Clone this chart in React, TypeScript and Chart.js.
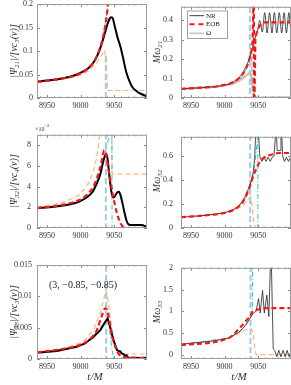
import React, { useEffect, useRef } from "react";
import { Chart, registerables } from "chart.js";
Chart.register(...registerables);

const SERIF = "'Liberation Serif', 'DejaVu Serif', serif";

// ---------- shared axis data ----------
const T_MIN = 8935;
const T_MAX = 9099;
const X_TICKS = [8950, 9000, 9050];

// ---------- |Psi21| panel ----------
const p21NrT = [8935, 8950, 8965.5, 8981, 8994.3, 9004.6, 9011.9, 9019, 9024.2, 9028.3, 9032.5, 9036.6, 9040.7, 9043.8, 9045.9, 9047.9, 9051, 9055.2, 9059.2, 9063.4, 9067.5, 9071.6, 9076.8, 9084, 9091.2, 9102.5];
const p21Nr = [0.035, 0.037, 0.04, 0.044, 0.05, 0.057, 0.064, 0.075, 0.088, 0.102, 0.12, 0.14, 0.16, 0.17, 0.172, 0.17, 0.152, 0.128, 0.11, 0.085, 0.058, 0.04, 0.024, 0.014, 0.008, 0.002];
const p21EobT = [8935, 8965.5, 8996.4, 9011.9, 9022.2, 9029.4, 9033.5, 9036.6, 9038.6, 9040.7, 9042.8];
const p21Eob = [0.034, 0.04, 0.05, 0.064, 0.083, 0.108, 0.13, 0.152, 0.172, 0.2, 0.26];
const p21CyT = [8935, 8965.5, 8996.4, 9011.9, 9022.2, 9029.4, 9033.5, 9036.6, 9039.7, 9042.3];
const p21Cy = [0.034, 0.04, 0.05, 0.065, 0.085, 0.11, 0.133, 0.158, 0.19, 0.25];
const p21OrT = [8935, 8965.5, 8996.4, 9011.9, 9022.2, 9029.4, 9033.5, 9035.5, 9037.6, 9039.1, 9040.2, 9102.5];
const p21Or = [0.033, 0.038, 0.047, 0.058, 0.072, 0.086, 0.096, 0.102, 0.09, 0.05, 0.016, 0.016];
const p21BlT = [9037.6, 9037.6];
const p21Bl = [0, 0.09];
const p21YTicks = [0, 0.05, 0.1, 0.15, 0.2];

// ---------- M omega21 panel ----------
const w21NrT = [8935, 8960.4, 8986.1, 9001.6, 9009.8, 9017, 9023.2, 9028.3, 9032.5, 9035.5, 9038.6, 9041.7, 9044.8, 9047.4, 9050, 9052.1, 9054.1, 9056.2, 9059.8, 9063.4, 9067, 9070.6, 9074.2, 9077.8, 9081.5, 9085.1, 9088.7, 9092.2, 9095.8, 9099.4, 9102.5];
const w21Nr = [0.047, 0.052, 0.059, 0.067, 0.077, 0.092, 0.112, 0.138, 0.165, 0.19, 0.222, 0.26, 0.3, 0.33, 0.36, 0.4, 0.38, 0.34, 0.44, 0.335, 0.44, 0.335, 0.44, 0.335, 0.44, 0.335, 0.44, 0.335, 0.44, 0.335, 0.4];
const w21EobT = [8935, 8986.1, 9006.7, 9017, 9024.2, 9029.4, 9033.5, 9036.6, 9039.7, 9041.7, 9043.6, 9043.8, 9045.9, 9049, 9053.1, 9058.2, 9102.5];
const w21Eob = [0.047, 0.058, 0.072, 0.09, 0.11, 0.135, 0.165, 0.195, 0.235, 0.29, 0.6, -0.2, 0.31, 0.35, 0.375, 0.39, 0.39];
const w21OmT = [8935, 8986.1, 9011.9, 9022.2, 9028.3, 9032.5, 9035.5, 9037.6, 9039.7, 9041.7, 9043.8, 9045.9, 9102.5];
const w21Om = [0.047, 0.057, 0.073, 0.09, 0.105, 0.117, 0.126, 0.128, 0.11, 0.06, 0.02, 0.002, 0.002];
const w21OrT = [8935, 8986.1, 9011.9, 9022.2, 9028.3, 9032.5, 9035.5, 9038.6, 9040.7, 9042.8, 9044.8, 9102.5];
const w21Or = [0.046, 0.056, 0.072, 0.088, 0.103, 0.115, 0.122, 0.124, 0.09, 0.03, 0.004, 0.004];
const w21CyT = [8935, 8986.1, 9011.9, 9022.2, 9028.3, 9032.5, 9035.5, 9038.6, 9040.2, 9041.2];
const w21Cy = [0.047, 0.058, 0.075, 0.095, 0.12, 0.15, 0.18, 0.22, 0.25, 0];
const w21BlT = [9037.6, 9037.6];
const w21Bl = [-1, 1];
const w21YTicks = [0, 0.1, 0.2, 0.3, 0.4];

// ---------- |Psi32| panel (x 10^-3) ----------
const p32NrT = [8935, 8960.4, 8981, 8996.4, 9006.7, 9013.9, 9019, 9024.2, 9029.4, 9034, 9036.6, 9038.6, 9040.2, 9041.7, 9043.8, 9045.9, 9049, 9051, 9054.1, 9057.2, 9059.8, 9062.4, 9065.4, 9068.5, 9071.6, 9075.8, 9084, 9091.2, 9097.3, 9102.5];
const p32Nr = [1.9, 2.05, 2.25, 2.5, 2.85, 3.2, 3.6, 4.3, 5.2, 6.5, 7.0, 7.1, 6.7, 5.8, 4.5, 3.5, 2.95, 3.05, 3.4, 3.5, 3.1, 2.4, 1.5, 0.7, 0.35, 0.28, 0.3, 0.28, 0.15, 0.05];
const p32EobT = [8935, 8960.4, 8981, 8996.4, 9006.7, 9013.9, 9019, 9024.2, 9029.4, 9032.5, 9035, 9037.6, 9040.2, 9043.8, 9049, 9054.1, 9059.2, 9063.4, 9067.5];
const p32Eob = [1.95, 2.1, 2.35, 2.65, 3.05, 3.5, 4.0, 4.8, 5.9, 6.8, 7.5, 7.2, 6.2, 4.8, 2.9, 1.45, 0.5, 0.12, 0];
const p32OrT = [8935, 8970.7, 8996.4, 9006.7, 9013.9, 9019, 9023.2, 9026.3, 9028.9, 9046.4, 9046.9, 9102.5];
const p32Or = [2.0, 2.4, 3.1, 3.8, 4.6, 5.5, 6.6, 7.8, 9.5, 9.5, 5.2, 5.2];
const p32CyT = [8935, 8981, 9006.7, 9019, 9029.4, 9034.5, 9038.6, 9041.7, 9044.3, 9046.7, 9046.9];
const p32Cy = [1.95, 2.3, 2.95, 3.8, 5.5, 6.8, 7.8, 8.6, 9.5, 9.5, -0.5];
const p32BlT = [9037.6, 9037.6];
const p32Bl = [-1, 10];
const p32YTicks = [0, 2, 4, 6, 8];

// ---------- M omega32 panel ----------
const w32NrT = [8935, 8960.4, 8986.1, 9001.6, 9011.9, 9020.1, 9026.3, 9030.4, 9033.5, 9036.6, 9039.7, 9042.8, 9044.8, 9046.4, 9050.5, 9052.6, 9055.7, 9058.8, 9061.8, 9064.9, 9068, 9071.1, 9073.7, 9076.3, 9077.3, 9078.4, 9083, 9084, 9085.1, 9086.6, 9089.1, 9092.2, 9095.3, 9098.4, 9101.5, 9102.5];
const w32Nr = [0.09, 0.1, 0.115, 0.13, 0.15, 0.18, 0.22, 0.26, 0.3, 0.34, 0.39, 0.47, 0.58, 0.8, 0.8, 0.59, 0.555, 0.59, 0.555, 0.59, 0.555, 0.59, 0.6, 0.8, 0.8, 0.645, 0.645, 0.8, 0.8, 0.6, 0.555, 0.59, 0.555, 0.59, 0.555, 0.57];
const w32EobT = [8935, 8960.4, 8986.1, 9001.6, 9011.9, 9020.1, 9026.3, 9030.4, 9033.5, 9036.6, 9040.7, 9043.8, 9047.9, 9052.1, 9057.2, 9063.4, 9071.6, 9082, 9102.5];
const w32Eob = [0.09, 0.1, 0.113, 0.127, 0.148, 0.175, 0.21, 0.25, 0.29, 0.33, 0.4, 0.45, 0.5, 0.55, 0.58, 0.6, 0.615, 0.625, 0.625];
const w32OrT = [8935, 8986.1, 9011.9, 9022.2, 9029.4, 9033.5, 9036.6, 9039.1, 9041.2, 9043.3, 9045.4, 9102.5];
const w32Or = [0.09, 0.11, 0.14, 0.17, 0.2, 0.225, 0.245, 0.26, 0.18, 0.06, 0.005, 0.005];
const w32CyT = [8935, 8986.1, 9011.9, 9022.2, 9029.4, 9033.5, 9037.6, 9041.7, 9044.8, 9047.4, 9049.5, 9049.7];
const w32Cy = [0.09, 0.113, 0.15, 0.185, 0.225, 0.27, 0.33, 0.42, 0.52, 0.65, 0.8, -0.05];
const w32BlT = [9038.1, 9038.1];
const w32Bl = [-1, 1];
const w32YTicks = [0, 0.2, 0.4, 0.6];

// ---------- |Psi33| panel ----------
const p33NrT = [8935, 8964.5, 8994.3, 9006.7, 9019, 9029.4, 9036.6, 9040.2, 9043.8, 9049, 9054.1, 9056.2, 9059.2, 9061.3, 9063.9, 9066.5, 9068.5, 9071.6, 9078.9, 9089.1, 9102.5];
const p33Nr = [0.00101, 0.00128, 0.00195, 0.0025, 0.0035, 0.0046, 0.0059, 0.0065, 0.0052, 0.003, 0.00145, 0.0013, 0.0012, 0.0009, 0.0008, 0.0005, 0.0006, 0.0001, 0.0002, 0.00015, 0.0002];
const p33EobT = [8935, 8978.9, 9004.6, 9017, 9024.2, 9031.4, 9036.6, 9039.1, 9041.7, 9046.6, 9051.6, 9056.2, 9064, 9102.5];
const p33Eob = [0.00106, 0.0017, 0.0025, 0.0035, 0.0046, 0.0068, 0.0081, 0.0079, 0.0068, 0.0038, 0.002, 0.0009, 0.0003, 0.00016];
const p33OrT = [8935, 8978.9, 9004.6, 9019, 9029.4, 9034.1, 9038.1, 9041.7, 9043.8, 9047.9, 9051.6, 9053.1, 9056.2, 9058.2, 9102.5];
const p33Or = [0.0011, 0.0018, 0.0028, 0.0046, 0.0073, 0.0094, 0.011, 0.0089, 0.0068, 0.0041, 0.002, 0.0016, 0.0015, 0.0008, 0.0008];
const p33CyT = [8935, 8978.9, 9004.6, 9019, 9029.4, 9036.6, 9040.7, 9043.8, 9046.9, 9049.5];
const p33Cy = [0.00105, 0.0017, 0.0025, 0.0037, 0.005, 0.006, 0.0058, 0.0041, 0.0015, 0.0001];
const p33BlT = [9038.1, 9038.1];
const p33Bl = [-1, 1];
const p33YTicks = [0, 0.005, 0.01, 0.015];

// ---------- M omega33 panel ----------
const w33NrT = [8935, 8981, 9005.7, 9020.7, 9030.4, 9038.1, 9042.8, 9046.9, 9050.6, 9053.1, 9056.6, 9059.2, 9063, 9066, 9068.5, 9069.6, 9072.5, 9074.7, 9077.8, 9080.9, 9084, 9087.1, 9090.2, 9093.2, 9096.3, 9099.4, 9102.5];
const w33Nr = [0.24, 0.31, 0.38, 0.51, 0.66, 0.84, 0.955, 1.0, 1.29, 0.96, 1.48, 0.96, 1.37, 0.88, 2.2, 2.2, 0.13, 0.1, -0.05, 0.1, -0.05, 0.1, -0.05, 0.1, -0.05, 0.1, 0.03];
const w33EobT = [8935, 9005.7, 9025.2, 9035.5, 9038.6, 9040.7, 9047.9, 9060.3, 9102.5];
const w33Eob = [0.22, 0.38, 0.66, 0.84, 0.88, 0.97, 1.03, 1.07, 1.07];
const w33OrT = [8935, 9005.7, 9022.2, 9032.5, 9039.7, 9042.8, 9044.8, 9046.9, 9102.5];
const w33Or = [0.23, 0.37, 0.5, 0.58, 0.6, 0.5, 0.15, 0.0, 0.0];
const w33CyT = [8935, 9005.7, 9022.2, 9032.5, 9038.6, 9041.5, 9041.7];
const w33Cy = [0.24, 0.38, 0.52, 0.7, 0.86, 0.95, 2.2];
const w33BlT = [9038.6, 9038.6];
const w33Bl = [-1, 3];
const w33YTicks = [0, 0.5, 1, 1.5, 2];

// ---------- text ----------
const LEGEND_LABELS = ["NR", "EOB", "Ω"];
const ANNOTATION = "(3, −0.85, −0.85)";
const X_TITLE = "t/M";

// ---------- styles ----------
const STYLES: Record<string, any> = {
  nrThick: { borderColor: "#000000", borderWidth: 2 },
  nrThin: { borderColor: "#222222", borderWidth: 0.8 },
  eob: { borderColor: "#ff1414", borderWidth: 2.2, borderDash: [5, 3] },
  orange: { borderColor: "#f8b586", borderWidth: 1.2, borderDash: [5, 3] },
  blue: { borderColor: "#9fcbe6", borderWidth: 2, borderDash: [6, 3] },
  cyan: { borderColor: "#33c6c6", borderWidth: 1, borderDash: [5, 2, 1, 2] },
  omega: { borderColor: "#c4c4c4", borderWidth: 2.2 },
};

type Seg = [string, boolean];
type Line = { t: number[]; y: number[]; style: string; smooth?: boolean };
interface PanelDef {
  rect: [number, number, number, number];
  yw: number;
  yMin: number;
  yMax: number;
  yTicks: number[];
  yPad: number;
  lines: Line[];
  yTitle: Seg[];
  yTitlePos: [number, number];
  xTitle?: boolean;
  legend?: boolean;
  annotation?: boolean;
  exponent?: boolean;
}

function drawRich(ctx: CanvasRenderingContext2D, segs: Seg[], x: number, y: number, size: number, rot: number) {
  ctx.save();
  ctx.translate(x, y);
  ctx.rotate(rot);
  const sub = size * 0.7;
  const font = (s: number) => `italic ${s}px ${SERIF}`;
  let w = 0;
  segs.forEach(([t, s]) => {
    ctx.font = font(s ? sub : size);
    w += ctx.measureText(t).width;
  });
  let cx = -w / 2;
  ctx.textBaseline = "alphabetic";
  ctx.textAlign = "left";
  ctx.fillStyle = "#333";
  segs.forEach(([t, s]) => {
    ctx.font = font(s ? sub : size);
    ctx.fillText(t, cx, size * 0.35 + (s ? size * 0.22 : 0));
    cx += ctx.measureText(t).width;
  });
  ctx.restore();
}

const PT = 10;
const PR = 2;
const PB = 28;

function makePlugin(def: PanelDef, ox: number, oy: number) {
  return {
    id: "frame",
    afterDraw(chart: any) {
      const { ctx, chartArea: a, scales } = chart;
      const xs = scales.x;
      const ys = scales.y;
      ctx.save();
      // inward ticks
      ctx.strokeStyle = "#6a6a6a";
      ctx.lineWidth = 0.8;
      ctx.beginPath();
      for (let v = Math.ceil(T_MIN / 10) * 10; v <= T_MAX; v += 10) {
        const px = Math.round(xs.getPixelForValue(v)) + 0.5;
        const len = v % 50 === 0 ? 3 : 1.5;
        ctx.moveTo(px, a.bottom);
        ctx.lineTo(px, a.bottom - len);
        ctx.moveTo(px, a.top);
        ctx.lineTo(px, a.top + len);
      }
      def.yTicks.forEach((v) => {
        const py = Math.round(ys.getPixelForValue(v)) + 0.5;
        ctx.moveTo(a.left, py);
        ctx.lineTo(a.left + 3, py);
        ctx.moveTo(a.right, py);
        ctx.lineTo(a.right - 3, py);
      });
      ctx.stroke();
      // frame
      ctx.strokeStyle = "#9a9a9a";
      ctx.lineWidth = 1;
      ctx.setLineDash([]);
      ctx.strokeRect(a.left + 0.5, a.top + 0.5, a.right - a.left - 1, a.bottom - a.top - 1);

      // y title
      drawRich(ctx, def.yTitle, def.yTitlePos[0] - ox, def.yTitlePos[1] - oy, 10, -Math.PI / 2);

      // x title
      if (def.xTitle) {
        ctx.font = `italic 11px ${SERIF}`;
        ctx.fillStyle = "#333";
        ctx.textAlign = "center";
        ctx.textBaseline = "middle";
        ctx.fillText(X_TITLE, (a.left + a.right) / 2 + 3, 377 - oy);
      }

      // exponent
      if (def.exponent) {
        ctx.fillStyle = "#333";
        ctx.textAlign = "left";
        ctx.textBaseline = "alphabetic";
        ctx.font = `6px ${SERIF}`;
        ctx.fillText("×10", 35 - ox, 130.5 - oy);
        const w = ctx.measureText("×10").width;
        ctx.font = `4.5px ${SERIF}`;
        ctx.fillText("−3", 35 - ox + w, 127 - oy);
      }

      // annotation
      if (def.annotation) {
        ctx.fillStyle = "#222";
        ctx.textAlign = "center";
        ctx.textBaseline = "middle";
        ctx.font = `10px ${SERIF}`;
        ctx.fillText(ANNOTATION, 83 - ox, 285 - oy);
      }

      // legend
      if (def.legend) {
        const bx = 187 - ox, by = 10.5 - oy, bw = 40, bh = 27.5;
        ctx.fillStyle = "#fff";
        ctx.fillRect(bx, by, bw, bh);
        ctx.strokeStyle = "#8a8a8a";
        ctx.lineWidth = 0.8;
        ctx.strokeRect(bx + 0.5, by + 0.5, bw, bh);
        const rows = [
          { y: 15.7, st: { c: "#222", w: 0.9, d: [] as number[] } },
          { y: 24.3, st: { c: "#ff1414", w: 2, d: [5, 4] } },
          { y: 33.3, st: { c: "#c4c4c4", w: 1.6, d: [] as number[] } },
        ];
        rows.forEach((r, i) => {
          ctx.beginPath();
          ctx.strokeStyle = r.st.c;
          ctx.lineWidth = r.st.w;
          ctx.setLineDash(r.st.d);
          ctx.moveTo(189.5 - ox, r.y - oy);
          ctx.lineTo(204 - ox, r.y - oy);
          ctx.stroke();
          ctx.setLineDash([]);
          ctx.fillStyle = "#222";
          ctx.font = `7px ${SERIF}`;
          ctx.textAlign = "left";
          ctx.textBaseline = "middle";
          ctx.fillText(LEGEND_LABELS[i], 206 - ox, r.y - oy + 0.3);
        });
      }
      ctx.restore();
    },
  };
}

const fmt = (v: number) => String(+Number(v).toFixed(4));

function Panel({ def }: { def: PanelDef }) {
  const ref = useRef<HTMLCanvasElement>(null);
  const [L, T, R, B] = def.rect;
  const ox = L - def.yw;
  const oy = T - PT;
  const cw = R - L + def.yw + PR;
  const ch = B - T + PT + PB;
  useEffect(() => {
    const chart = new Chart(ref.current as HTMLCanvasElement, {
      type: "line",
      data: {
        datasets: def.lines.map((l) => ({
          data: l.t.map((x, i) => ({ x, y: l.y[i] })),
          ...STYLES[l.style],
          pointRadius: 0,
          fill: false,
          tension: 0,
          cubicInterpolationMode: l.smooth ? "monotone" : "default",
          clip: 0,
        })),
      },
      options: {
        responsive: false,
        animation: false,
        devicePixelRatio: 1,
        events: [],
        layout: { padding: { top: PT, right: PR, left: 0, bottom: 0 } },
        plugins: { legend: { display: false }, tooltip: { enabled: false } },
        scales: {
          x: {
            type: "linear",
            min: T_MIN,
            max: T_MAX,
            grid: { display: false, drawTicks: false },
            border: { display: false },
            afterBuildTicks: (s: any) => {
              s.ticks = X_TICKS.map((v) => ({ value: v }));
            },
            afterFit: (s: any) => {
              s.height = PB;
            },
            ticks: {
              padding: 3,
              color: "#333",
              font: { family: SERIF, size: 8 },
              maxRotation: 0,
              autoSkip: false,
              callback: (v: any) => String(v),
            },
          },
          y: {
            type: "linear",
            min: def.yMin,
            max: def.yMax,
            grid: { display: false, drawTicks: false },
            border: { display: false },
            afterBuildTicks: (s: any) => {
              s.ticks = def.yTicks.map((v) => ({ value: v }));
            },
            afterFit: (s: any) => {
              s.width = def.yw;
            },
            ticks: {
              padding: def.yPad,
              color: "#333",
              font: { family: SERIF, size: 8 },
              autoSkip: false,
              callback: (v: any) => fmt(v),
            },
          },
        },
      } as any,
      plugins: [makePlugin(def, ox, oy)],
    });
    return () => chart.destroy();
  }, []);
  return (
    <canvas
      ref={ref}
      width={cw}
      height={ch}
      style={{ position: "absolute", left: ox, top: oy, width: cw, height: ch }}
    />
  );
}

const L = (t: number[], y: number[], style: string, smooth = true): Line => ({ t, y, style, smooth });

const PANELS: PanelDef[] = [
  {
    rect: [37, 4, 147, 98], yw: 37, yMin: 0, yMax: 0.2, yTicks: p21YTicks, yPad: 4,
    yTitle: [["|Ψ", false], ["21", true], ["|/[νc", false], ["3", true], ["(ν)]", false]],
    yTitlePos: [13.5, 51],
    lines: [
      L(p21EobT, p21Eob, "eob"),
      L(p21NrT, p21Nr, "nrThick"),
      L(p21CyT, p21Cy, "cyan"),
      L(p21OrT, p21Or, "orange", false),
      L(p21BlT, p21Bl, "blue", false),
    ],
  },
  {
    rect: [181, 4, 291, 98], yw: 33, yMin: 0, yMax: 0.47, yTicks: w21YTicks, yPad: 8,
    yTitle: [["Mω", false], ["21", true]], yTitlePos: [156, 52], legend: true,
    lines: [
      L(w21EobT, w21Eob, "eob", false),
      L(w21NrT, w21Nr, "nrThin"),
      L(w21CyT, w21Cy, "cyan", false),
      L(w21OrT, w21Or, "orange", false),
      L(w21OmT, w21Om, "omega", false),
      L(w21BlT, w21Bl, "blue", false),
    ],
  },
  {
    rect: [37, 134, 147, 228], yw: 37, yMin: 0, yMax: 9, yTicks: p32YTicks, yPad: 6,
    yTitle: [["|Ψ", false], ["32", true], ["|/[νc", false], ["4", true], ["(ν)]", false]],
    yTitlePos: [13.5, 181], exponent: true,
    lines: [
      L(p32EobT, p32Eob, "eob"),
      L(p32NrT, p32Nr, "nrThick"),
      L(p32CyT, p32Cy, "cyan", false),
      L(p32OrT, p32Or, "orange", false),
      L(p32BlT, p32Bl, "blue", false),
    ],
  },
  {
    rect: [181, 134, 291, 228], yw: 33, yMin: 0, yMax: 0.76, yTicks: w32YTicks, yPad: 8,
    yTitle: [["Mω", false], ["32", true]], yTitlePos: [156, 181],
    lines: [
      L(w32EobT, w32Eob, "eob"),
      L(w32NrT, w32Nr, "nrThin", false),
      L(w32CyT, w32Cy, "cyan", false),
      L(w32OrT, w32Or, "orange", false),
      L(w32BlT, w32Bl, "blue", false),
    ],
  },
  {
    rect: [37, 265, 147, 359], yw: 37, yMin: 0, yMax: 0.015, yTicks: p33YTicks, yPad: 5,
    yTitle: [["|Ψ", false], ["33", true], ["|/[νc", false], ["3", true], ["(ν)]", false]],
    yTitlePos: [13.5, 312], xTitle: true, annotation: true,
    lines: [
      L(p33EobT, p33Eob, "eob"),
      L(p33NrT, p33Nr, "nrThick", false),
      L(p33CyT, p33Cy, "cyan"),
      L(p33OrT, p33Or, "orange", false),
      L(p33BlT, p33Bl, "blue", false),
    ],
  },
  {
    rect: [181, 265, 291, 359], yw: 33, yMin: -0.1, yMax: 2, yTicks: w33YTicks, yPad: 8,
    yTitle: [["Mω", false], ["33", true]], yTitlePos: [156, 312], xTitle: true,
    lines: [
      L(w33EobT, w33Eob, "eob"),
      L(w33NrT, w33Nr, "nrThin", false),
      L(w33CyT, w33Cy, "cyan", false),
      L(w33OrT, w33Or, "orange", false),
      L(w33BlT, w33Bl, "blue", false),
    ],
  },
];

export default function App() {
  return (
    <div
      style={{
        position: "fixed",
        left: 0,
        top: 0,
        width: 291,
        height: 385,
        overflow: "hidden",
        background: "#fff",
      }}
    >
      {PANELS.map((p, i) => (
        <Panel key={i} def={p} />
      ))}
    </div>
  );
}
